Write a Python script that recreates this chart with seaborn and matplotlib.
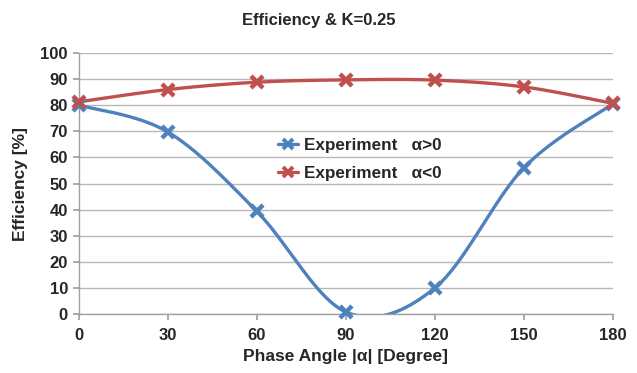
import numpy as np
import pandas as pd
import seaborn as sns
import matplotlib
matplotlib.use("Agg")
import matplotlib.pyplot as plt
from matplotlib.lines import Line2D

angles = [0, 30, 60, 90, 120, 150, 180]
eff_pos = [80.0, 69.7, 39.3, 0.8, 10.0, 56.0, 80.5]
eff_neg = [81.3, 86.0, 88.8, 89.7, 89.6, 87.0, 80.7]
series_names = ["Experiment   α>0", "Experiment   α<0"]
colors = ["#4F81BD", "#C0504D"]
yticks = list(range(0, 101, 10))
xticks = [0, 30, 60, 90, 120, 150, 180]

sns.set_theme(style="white")
plt.rcParams["font.family"] = ["Liberation Sans", "DejaVu Sans"]


def smooth(x, y, n=40):
    # Excel-style smoothed line (Catmull-Rom Bezier) through the data points
    x = np.asarray(x, float)
    y = np.asarray(y, float)
    P = np.column_stack([x, y])
    out = []
    for i in range(len(P) - 1):
        p0 = P[i - 1] if i > 0 else P[i]
        p1 = P[i]
        p2 = P[i + 1]
        p3 = P[i + 2] if i + 2 < len(P) else P[i + 1]
        c1 = p1 + (p2 - p0) / 6
        c2 = p2 - (p3 - p1) / 6
        t = np.linspace(0, 1, n)[:, None]
        seg = ((1 - t) ** 3) * p1 + 3 * ((1 - t) ** 2) * t * c1 + 3 * (1 - t) * t ** 2 * c2 + t ** 3 * p2
        out.append(seg if i == 0 else seg[1:])
    s = np.vstack(out)
    return s[:, 0], s[:, 1]


fig = plt.figure(figsize=(6.37, 3.73), dpi=100)
ax = fig.add_axes([0.124, 0.158, 0.838, 0.700])

frames = []
for name, vals in zip(series_names, [eff_pos, eff_neg]):
    sx, sy = smooth(angles, vals)
    frames.append(pd.DataFrame({"x": sx, "y": sy, "series": name}))
curve = pd.concat(frames, ignore_index=True)

sns.lineplot(data=curve, x="x", y="y", hue="series", palette=colors, sort=False,
             estimator=None, linewidth=2.4, ax=ax, legend=False)

for vals, c in zip([eff_pos, eff_neg], colors):
    ax.plot(angles, vals, linestyle="none", marker="x", markersize=8, markeredgewidth=3.2,
            color=c, clip_on=False, zorder=5)

ax.set_xlim(0, 180)
ax.set_ylim(0, 100)
ax.set_xticks(xticks)
ax.set_yticks(yticks)
ax.tick_params(axis="both", labelsize=12, length=4, color="#A0A0A0", direction="out",
               bottom=True, left=True, pad=4)
ax.tick_params(axis="x", pad=6)
for lab in ax.get_xticklabels() + ax.get_yticklabels():
    lab.set_fontweight("bold")
ax.yaxis.grid(True, color="#B8B8B8", linewidth=1)
ax.xaxis.grid(False)
for s in ["top", "right"]:
    ax.spines[s].set_visible(False)
for s in ["left", "bottom"]:
    ax.spines[s].set_color("#A0A0A0")
    ax.spines[s].set_linewidth(1)

ax.set_xlabel("Phase Angle |α| [Degree]", fontsize=12.5, fontweight="bold", labelpad=4)
ax.set_ylabel("Efficiency [%]", fontsize=12.5, fontweight="bold", labelpad=9)
fig.suptitle("Efficiency & K=0.25", fontsize=12, fontweight="bold", y=0.965)

handles = [Line2D([0], [0], color=c, linewidth=2.4, marker="x", markersize=7, markeredgewidth=2.8)
           for c in colors]
leg = ax.legend(handles, series_names, loc="upper left", bbox_to_anchor=(0.36, 0.70),
                frameon=False, fontsize=12.3, handlelength=1.2, handletextpad=0.3,
                labelspacing=0.75, borderaxespad=0)
for t in leg.get_texts():
    t.set_fontweight("bold")

fig.savefig("out.png", dpi=100, facecolor="white")
